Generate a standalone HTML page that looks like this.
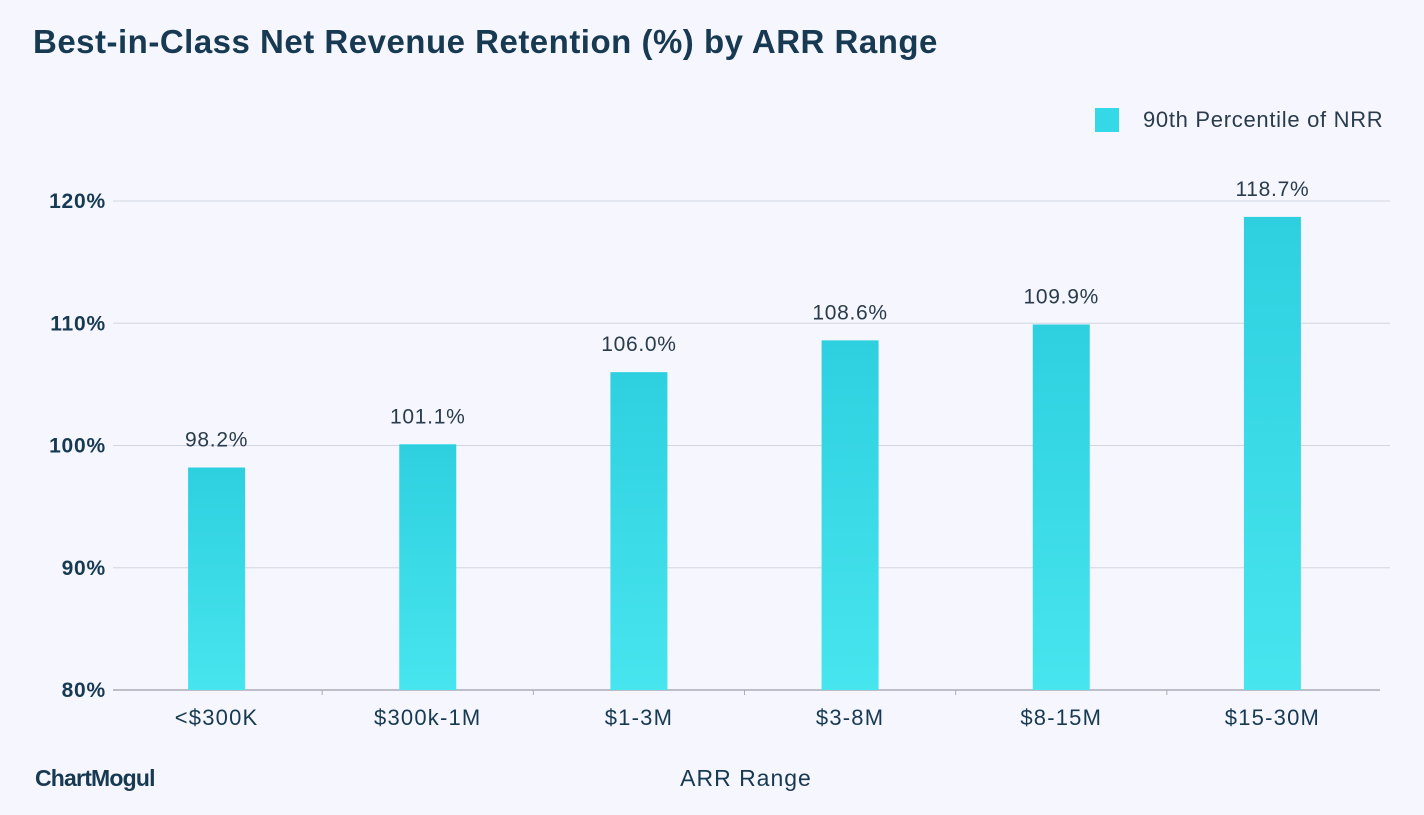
<!DOCTYPE html>
<html><head><meta charset="utf-8"><style>
body{margin:0;width:1424px;height:810px;background:#f5f6fe;font-family:"Liberation Sans",sans-serif;overflow:hidden}
svg text{font-family:"Liberation Sans",sans-serif}
</style></head><body>
<svg width="1424" height="810">
<defs><linearGradient id="g" x1="0" y1="0" x2="0" y2="1"><stop offset="0" stop-color="#2ed0e0"/><stop offset="1" stop-color="#47e5ee"/></linearGradient></defs>
<rect width="1424" height="810" fill="#f5f6fe"/>
<text x="33" y="53" font-size="33" font-weight="bold" fill="#173a52" letter-spacing="0.5">Best-in-Class Net Revenue Retention (%) by ARR Range</text>
<rect x="1095" y="108" width="24" height="24" fill="#35d8e6"/>
<text x="1143" y="127" font-size="22" letter-spacing="0.7" fill="#2a3c4c">90th Percentile of NRR</text>
<g id="grid"></g><g id="bars"></g>
<text x="746" y="786" font-size="23" letter-spacing="1" text-anchor="middle" fill="#173a52">ARR Range</text>
<text x="35" y="786" font-size="23" font-weight="bold" fill="#173a52" letter-spacing="-0.8">ChartMogul</text>
</svg>
<script>
const categories=["<$300K","$300k-1M","$1-3M","$3-8M","$8-15M","$15-30M"];
const values=[98.2,100.1,106.0,108.6,109.9,118.7];
const valueLabels=["98.2%","101.1%","106.0%","108.6%","109.9%","118.7%"];
const yTicks=[80,90,100,110,120];
const x0=111,x1=1378,y0=690,y1=201,ymin=80,ymax=120;
const band=(x1-x0)/categories.length;
const X=i=>x0+band*(i+0.5);
const Y=v=>y0-(v-ymin)/(ymax-ymin)*(y0-y1);
const ns="http://www.w3.org/2000/svg";
const grid=document.getElementById('grid'),bars=document.getElementById('bars');
function mk(tag,attrs,parent,txt){const e=document.createElementNS(ns,tag);for(const k in attrs)e.setAttribute(k,attrs[k]);if(txt!=null)e.textContent=txt;parent.appendChild(e);return e;}
yTicks.forEach(t=>{
  const y=Y(t);
  if(t!==ymin){const l=mk('line',{x1:113,x2:1390,y1:y,y2:y,stroke:'#d3d6e2','stroke-width':1},grid);
  
  }
  const tx=mk('text',{x:106,y:y+7,'font-size':21,'letter-spacing':0.8,'text-anchor':'end',fill:'#173a52','font-weight':'bold'},grid,t+'%');
  
  
});
const ax=mk('line',{x1:113,x2:1380,y1:y0,y2:y0,stroke:'#a9acb8','stroke-width':1.5},grid);


for(let i=1;i<categories.length;i++){const xx=x0+band*i;
  const tk=mk('line',{x1:xx,x2:xx,y1:y0,y2:y0+5,stroke:'#a9acb8'},grid);
  
  }
categories.forEach((c,i)=>{
  const w=57,cx=X(i),top=Y(values[i]);
  const r=mk('rect',{x:cx-w/2,y:top,width:w,height:y0-top,fill:'url(#g)'},bars);
  
  
  const vl=mk('text',{x:cx,y:top-21,'font-size':21,'letter-spacing':0.7,'text-anchor':'middle',fill:'#2a3c4c'},bars,valueLabels[i]);
  
  
  const xl=mk('text',{x:cx,y:725,'font-size':22,'letter-spacing':1.2,'text-anchor':'middle',fill:'#173a52'},bars,c);
  
  
});
</script>
</body></html>
